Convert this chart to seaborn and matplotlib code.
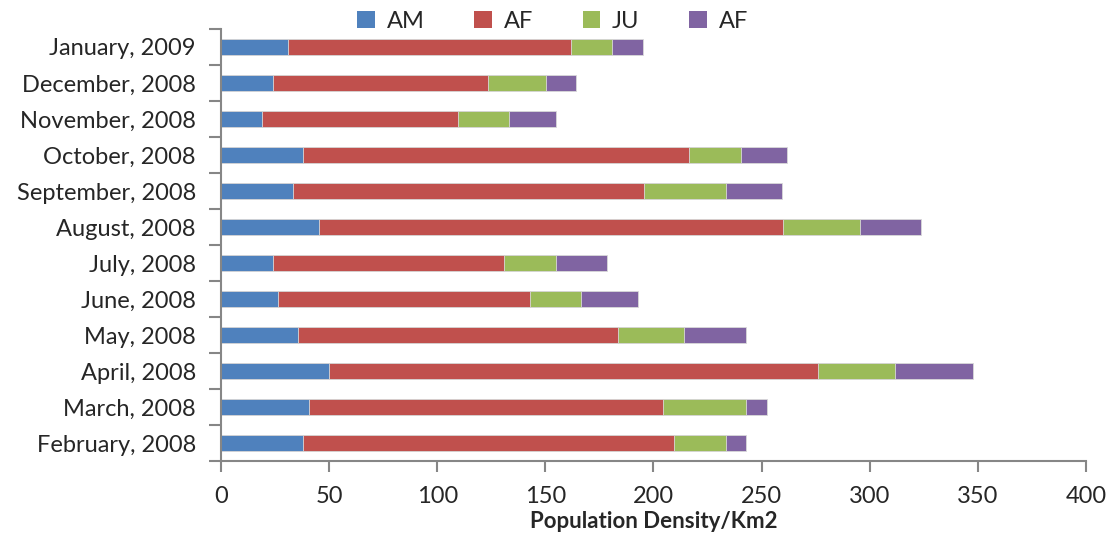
#!/usr/bin/env python3

import matplotlib
import pandas as pd
import seaborn as sns
from matplotlib import pyplot as plt
from matplotlib.patches import Patch

months = ["January, 2009", "December, 2008", "November, 2008", "October, 2008",
          "September, 2008", "August, 2008", "July, 2008", "June, 2008",
          "May, 2008", "April, 2008", "March, 2008", "February, 2008"]

am = [30.9, 24.0, 18.9, 38.0, 33.2, 45.2, 24.0, 26.3, 35.7, 49.9, 40.5, 38.0]
af = [130.9, 99.7, 90.6, 178.6, 162.2, 214.5, 107.0, 116.4, 147.7, 226.4, 164.1, 171.4]
ju = [19.2, 26.4, 23.9, 23.9, 38.0, 35.7, 24.0, 24.0, 30.9, 35.6, 38.3, 24.0]
af2 = [14.2, 14.1, 21.4, 21.3, 26.1, 28.5, 23.6, 26.0, 28.6, 35.9, 9.5, 9.5]

series_names = ["AM", "AF", "JU", "AF"]
colors = ["#4F81BD", "#C0504D", "#9BBB59", "#8064A2"]

sns.set_style("white")
plt.rcParams['font.family'] = ['Lato', 'DejaVu Sans']
plt.rcParams['font.size'] = 16


def main():
    df = pd.DataFrame({"month": months, "AM": am, "AF": af, "JU": ju, "AF2": af2})
    df["c1"] = df["AM"]
    df["c2"] = df["c1"] + df["AF"]
    df["c3"] = df["c2"] + df["JU"]
    df["c4"] = df["c3"] + df["AF2"]

    fig, ax = plt.subplots(figsize=(11.12, 5.33), dpi=100)
    fig.subplots_adjust(left=0.1987, right=0.9766, top=0.9456, bottom=0.135)

    # draw cumulative totals back to front so each segment shows
    for col, color in zip(["c4", "c3", "c2", "c1"], colors[::-1]):
        sns.barplot(x=col, y="month", data=df, order=months, color=color,
                    orient="h", width=0.42, saturation=1, ax=ax,
                    edgecolor="#d9d9d9", linewidth=0.6)

    ax.set_xlim(0, 400)
    ax.set_ylim(len(months) - 0.5, -0.5)
    ax.set_xticks(range(0, 401, 50))
    ax.set_xlabel("Population Density/Km2", fontweight="bold", fontsize=16, labelpad=3)
    ax.set_ylabel("")

    for side in ["top", "right"]:
        ax.spines[side].set_visible(False)
    for side in ["left", "bottom"]:
        ax.spines[side].set_color("#868686")
        ax.spines[side].set_linewidth(1.5)

    ax.set_yticks([i - 0.5 for i in range(len(months) + 1)], minor=True)
    ax.tick_params(axis="y", which="major", left=True, length=0, pad=18)
    ax.tick_params(axis="y", which="minor", left=True, length=9, width=1.5,
                   color="#868686", direction="out")
    ax.tick_params(axis="x", which="major", bottom=True, length=8, width=1.5,
                   color="#868686", direction="out", pad=10)
    ax.tick_params(axis="both", labelsize=17)

    handles = [Patch(facecolor=c, edgecolor="none") for c in colors]
    fig.legend(handles, series_names, loc="upper center", bbox_to_anchor=(0.497, 1.02),
               ncol=4, frameon=False, columnspacing=2.1, handlelength=0.75,
               handleheight=0.75, handletextpad=0.5, fontsize=17)

    plt.savefig("out.png", dpi=100)


if __name__ == "__main__":
    main()
